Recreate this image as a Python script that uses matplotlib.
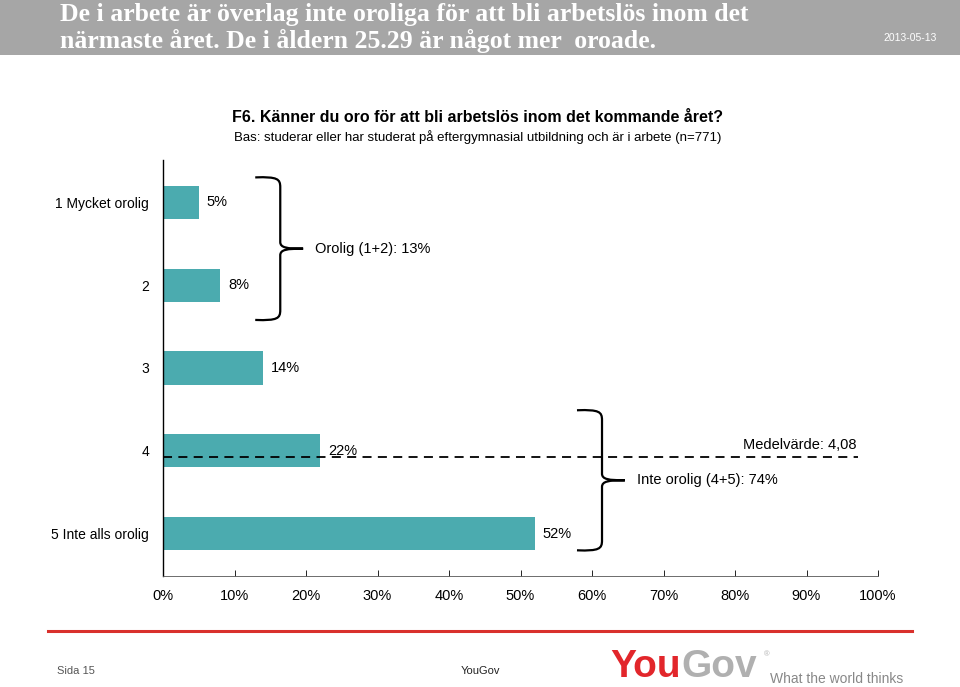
import matplotlib
matplotlib.use("Agg")
import matplotlib.pyplot as plt
from matplotlib.path import Path
from matplotlib.patches import PathPatch, Rectangle

# ---------------- data ----------------
categories = ["1 Mycket orolig", "2", "3", "4", "5 Inte alls orolig"]
values = [5, 8, 14, 22, 52]
mean_value = 4.08
group_worried = [0, 1]
group_worried_label = "Orolig (1+2): 13%"
group_not_worried = [3, 4]
group_not_worried_label = "Inte orolig (4+5): 74%"
xticks = [0, 10, 20, 30, 40, 50, 60, 70, 80, 90, 100]
xtick_labels = [f"{t}%" for t in xticks]

title_lines = ["De i arbete är överlag inte oroliga för att bli arbetslös inom det",
               "närmaste året. De i åldern 25.29 är något mer  oroade."]
date_text = "2013-05-13"
question = "F6. Känner du oro för att bli arbetslös inom det kommande året?"
base_text = "Bas: studerar eller har studerat på eftergymnasial utbildning och är i arbete (n=771)"

# ---------------- fonts ----------------
SANS = ["Liberation Sans", "DejaVu Sans"]
SERIF = ["Liberation Serif", "DejaVu Serif"]
plt.rcParams["font.family"] = SANS

BAR = "#4BABAF"
W, H = 960, 687
fig = plt.figure(figsize=(W / 100, H / 100), dpi=100)

def fx(px):
    return px / W

def fy(py):
    return 1 - py / H

# header band
fig.patches.append(Rectangle((0, fy(55)), 1, 55 / H, transform=fig.transFigure,
                             facecolor="#a6a6a6", edgecolor="none", zorder=0))
fig.text(fx(60), fy(21), title_lines[0], color="white", fontsize=18.5, fontweight="bold",
         family=SERIF, va="baseline", ha="left")
fig.text(fx(60), fy(48), title_lines[1], color="white", fontsize=18.5, fontweight="bold",
         family=SERIF, va="baseline", ha="left")
fig.text(fx(937), fy(38), date_text, color="white", fontsize=7.5, va="center", ha="right")

fig.text(fx(478), fy(117), question, fontsize=11.5, fontweight="bold", ha="center", va="center")
fig.text(fx(478), fy(137), base_text, fontsize=9.5, ha="center", va="center")

# ---------------- axes ----------------
ax_left, ax_right, ax_top, ax_bot = 163, 878, 160, 576
ax = fig.add_axes([fx(ax_left), fy(ax_bot), (ax_right - ax_left) / W, (ax_bot - ax_top) / H])
ypos = list(range(len(categories)))
ax.barh(ypos, values, height=0.4, color=BAR, zorder=2)
ax.set_xlim(0, 100)
ax.set_ylim(4.51, -0.51)
ax.set_yticks(ypos)
ax.set_yticklabels(categories, fontsize=10)
ax.tick_params(axis="y", length=0, pad=10)
ax.set_xticks(xticks)
ax.set_xticklabels(xtick_labels, fontsize=10.5)
ax.tick_params(axis="x", direction="in", length=4, width=0.6, pad=9)
for s in ["top", "right"]:
    ax.spines[s].set_visible(False)
ax.spines["left"].set_linewidth(1.0)
ax.spines["bottom"].set_linewidth(0.6)
ax.spines["bottom"].set_color("#555555")

for y, v in zip(ypos, values):
    ax.text(v + 1.1, y, f"{v}%", va="center", ha="left", fontsize=10.5, zorder=4)

# mean line
mean_y = mean_value - 1
ax.plot([0, 97.2], [mean_y, mean_y], color="black", lw=1.3, ls=(0, (5, 3.5)), zorder=3)
ax.text(97.0, mean_y - 0.15, f"Medelvärde: {mean_value:.2f}".replace(".", ","),
        ha="right", va="center", fontsize=10.5)

def brace(ax, x0, y0, y1, w=3.5, tip=3.2):
    xv = x0 + w
    ym = (y0 + y1) / 2
    verts = [
        (x0, y0), (xv - w * 0.1, y0 - 0.01), (xv, y0 + 0.02), (xv, y0 + 0.12),
        (xv, ym - 0.08),
        (xv, ym - 0.01), (xv + tip * 0.3, ym), (xv + tip, ym),
        (xv + tip * 0.3, ym), (xv, ym + 0.01), (xv, ym + 0.08),
        (xv, y1 - 0.12),
        (xv, y1 - 0.02), (xv - w * 0.1, y1 + 0.01), (x0, y1),
    ]
    codes = [Path.MOVETO, Path.CURVE4, Path.CURVE4, Path.CURVE4,
             Path.LINETO,
             Path.CURVE4, Path.CURVE4, Path.CURVE4,
             Path.CURVE4, Path.CURVE4, Path.CURVE4,
             Path.LINETO,
             Path.CURVE4, Path.CURVE4, Path.CURVE4]
    ax.add_patch(PathPatch(Path(verts, codes), facecolor="none", edgecolor="black",
                           lw=1.6, zorder=3, clip_on=False))
    return xv + tip, ym

def group_brace(group, label, gap, top, bottom):
    x0 = max(values[i] for i in group) + gap
    y0 = group[0] - top
    y1 = group[-1] + bottom
    xt, ym = brace(ax, x0, y0, y1)
    ax.text(xt + 1.7, ym, label, ha="left", va="center", fontsize=10.5)

group_brace(group_worried, group_worried_label, 4.9, 0.30, 0.42)
group_brace(group_not_worried, group_not_worried_label, 5.9, 0.49, 0.20)

# ---------------- footer ----------------
fig.add_artist(plt.Line2D([fx(48), fx(912)], [fy(631), fy(631)], color="#d9302c",
                          lw=2.2, transform=fig.transFigure))
fig.text(fx(57), fy(671), "Sida 15", fontsize=8, color="#555555", va="center", ha="left")
fig.text(fx(480), fy(671), "YouGov", fontsize=8, color="#222222", va="center", ha="center")
t_you = fig.text(fx(610), fy(677), "You", fontsize=28, fontweight="bold", color="#e2262b",
                 va="baseline", ha="left", family=SANS)
renderer = fig.canvas.get_renderer()
bb = t_you.get_window_extent(renderer=renderer)
gov_x = bb.x1 / W + 1 / W
t_gov = fig.text(gov_x, fy(677), "Gov", fontsize=28, fontweight="bold", color="#b0b0b0",
                 va="baseline", ha="left", family=SANS)
fig.text(fx(764), fy(655), "®", fontsize=5.5, color="#b0b0b0", va="center", ha="left")
fig.text(fx(770), fy(679), "What the world thinks", fontsize=10, color="#888888",
         va="center", ha="left")

fig.savefig("out.png", dpi=100)
